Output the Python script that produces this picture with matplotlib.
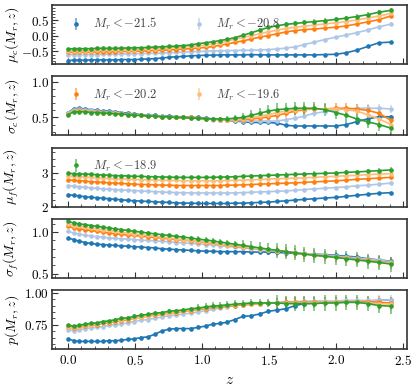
import numpy as np
import matplotlib
matplotlib.use("Agg")
import matplotlib.pyplot as plt
from matplotlib.ticker import MultipleLocator, AutoMinorLocator

plt.rcParams.update({
    "font.family": "serif",
    "font.serif": ["cmr10"],
    "mathtext.fontset": "cm",
    "axes.formatter.use_mathtext": True,
    "font.size": 10,
})

# redshift bins
z = [0.000, 0.042, 0.085, 0.128, 0.171, 0.216, 0.261, 0.306, 0.352, 0.399,
     0.447, 0.496, 0.545, 0.595, 0.646, 0.698, 0.751, 0.804, 0.859, 0.915,
     0.972, 1.030, 1.080, 1.136, 1.186, 1.243, 1.306, 1.369, 1.432, 1.495,
     1.563, 1.628, 1.696, 1.763, 1.839, 1.914, 2.000, 2.077, 2.153, 2.236,
     2.320, 2.410]

mag_cuts = ["-21.5", "-20.8", "-20.2", "-19.6", "-18.9"]
colors = ["#1f77b4", "#aec7e8", "#ff7f0e", "#ffbb78", "#2ca02c"]

# mu_c(M_r, z)
muc_215 = [-0.79, -0.78, -0.78, -0.78, -0.77, -0.77, -0.77, -0.77, -0.77, -0.76,
           -0.76, -0.76, -0.75, -0.74, -0.73, -0.71, -0.69, -0.67, -0.66, -0.64,
           -0.63, -0.62, -0.62, -0.61, -0.61, -0.61, -0.61, -0.60, -0.61, -0.61,
           -0.61, -0.61, -0.61, -0.61, -0.61, -0.60, -0.59, -0.54, -0.46, -0.34,
           -0.22, -0.20]
muc_208 = [-0.61, -0.60, -0.60, -0.60, -0.60, -0.60, -0.59, -0.59, -0.59, -0.58,
           -0.58, -0.57, -0.57, -0.56, -0.56, -0.55, -0.54, -0.53, -0.52, -0.51,
           -0.50, -0.49, -0.48, -0.48, -0.47, -0.47, -0.46, -0.46, -0.45, -0.44,
           -0.42, -0.39, -0.35, -0.28, -0.20, -0.12, -0.04, 0.03, 0.10, 0.19,
           0.29, 0.38]
muc_202 = [-0.53, -0.52, -0.52, -0.52, -0.52, -0.51, -0.51, -0.51, -0.51, -0.50,
           -0.50, -0.49, -0.49, -0.48, -0.47, -0.46, -0.45, -0.44, -0.42, -0.41,
           -0.39, -0.37, -0.34, -0.30, -0.26, -0.21, -0.16, -0.10, -0.04, 0.01,
           0.07, 0.13, 0.17, 0.20, 0.22, 0.25, 0.28, 0.32, 0.38, 0.45,
           0.52, 0.64]
muc_196 = [-0.48, -0.47, -0.47, -0.47, -0.47, -0.46, -0.46, -0.46, -0.45, -0.45,
           -0.44, -0.44, -0.43, -0.42, -0.41, -0.40, -0.39, -0.37, -0.36, -0.34,
           -0.32, -0.29, -0.26, -0.22, -0.17, -0.11, -0.05, 0.01, 0.07, 0.13,
           0.19, 0.24, 0.28, 0.31, 0.35, 0.38, 0.42, 0.46, 0.51, 0.57,
           0.64, 0.72]
muc_189 = [-0.42, -0.41, -0.41, -0.41, -0.41, -0.40, -0.40, -0.40, -0.40, -0.39,
           -0.39, -0.38, -0.38, -0.37, -0.36, -0.35, -0.34, -0.33, -0.31, -0.29,
           -0.25, -0.22, -0.19, -0.15, -0.11, -0.06, 0.02, 0.10, 0.19, 0.27,
           0.33, 0.37, 0.40, 0.43, 0.46, 0.49, 0.53, 0.57, 0.62, 0.68,
           0.76, 0.82]
muc_215_err = [.02, .02, .02, .02, .02, .02, .02, .02, .02, .02,
               .02, .02, .02, .02, .02, .02, .02, .02, .02, .02,
               .02, .02, .02, .02, .02, .02, .02, .02, .02, .02,
               .02, .02, .02, .02, .02, .02, .02, .03, .03, .03,
               .03, .03]
muc_208_err = [.02, .02, .02, .02, .02, .02, .02, .02, .02, .02,
               .02, .02, .02, .02, .02, .02, .02, .02, .02, .02,
               .02, .02, .02, .02, .02, .02, .03, .03, .03, .03,
               .03, .04, .04, .04, .04, .04, .04, .05, .05, .05,
               .05, .05]
muc_202_err = [.02, .02, .02, .02, .02, .02, .02, .02, .02, .02,
               .02, .02, .02, .02, .02, .02, .02, .02, .02, .02,
               .02, .03, .03, .03, .03, .03, .04, .04, .05, .05,
               .05, .06, .06, .06, .06, .06, .06, .07, .07, .07,
               .07, .07]
muc_196_err = [.02, .02, .02, .02, .02, .02, .02, .02, .02, .02,
               .02, .02, .02, .02, .02, .02, .02, .02, .02, .02,
               .02, .03, .03, .03, .03, .03, .04, .04, .05, .05,
               .05, .06, .06, .06, .06, .06, .06, .07, .07, .07,
               .07, .07]
muc_189_err = [.02, .02, .02, .02, .02, .02, .02, .02, .02, .02,
               .02, .02, .02, .02, .02, .02, .02, .02, .02, .02,
               .02, .03, .03, .03, .03, .03, .04, .05, .05, .06,
               .06, .07, .07, .07, .07, .07, .07, .08, .08, .08,
               .08, .08]

# sigma_c(M_r, z)
sigc_215 = [0.57, 0.62, 0.63, 0.62, 0.61, 0.60, 0.59, 0.59, 0.58, 0.57,
            0.56, 0.55, 0.54, 0.53, 0.53, 0.52, 0.52, 0.51, 0.51, 0.50,
            0.50, 0.49, 0.48, 0.47, 0.46, 0.45, 0.44, 0.43, 0.43, 0.43,
            0.42, 0.39, 0.38, 0.38, 0.38, 0.38, 0.38, 0.40, 0.44, 0.48,
            0.51, 0.51]
sigc_208 = [0.56, 0.61, 0.62, 0.61, 0.60, 0.59, 0.58, 0.58, 0.57, 0.56,
            0.55, 0.54, 0.53, 0.53, 0.52, 0.52, 0.51, 0.51, 0.50, 0.50,
            0.49, 0.48, 0.47, 0.47, 0.46, 0.46, 0.45, 0.45, 0.45, 0.45,
            0.45, 0.47, 0.49, 0.52, 0.56, 0.58, 0.61, 0.62, 0.63, 0.63,
            0.63, 0.62]
sigc_202 = [0.55, 0.59, 0.60, 0.59, 0.58, 0.58, 0.57, 0.57, 0.56, 0.55,
            0.54, 0.54, 0.53, 0.52, 0.52, 0.51, 0.51, 0.50, 0.50, 0.50,
            0.49, 0.48, 0.48, 0.47, 0.47, 0.47, 0.47, 0.48, 0.49, 0.51,
            0.53, 0.56, 0.59, 0.61, 0.62, 0.62, 0.63, 0.63, 0.62, 0.60,
            0.56, 0.46]
sigc_196 = [0.55, 0.59, 0.59, 0.59, 0.58, 0.57, 0.57, 0.56, 0.56, 0.55,
            0.54, 0.54, 0.53, 0.52, 0.52, 0.51, 0.51, 0.50, 0.50, 0.49,
            0.49, 0.48, 0.48, 0.47, 0.47, 0.47, 0.48, 0.50, 0.52, 0.54,
            0.57, 0.59, 0.61, 0.62, 0.62, 0.62, 0.62, 0.61, 0.59, 0.54,
            0.48, 0.40]
sigc_189 = [0.54, 0.58, 0.58, 0.58, 0.57, 0.57, 0.56, 0.56, 0.55, 0.55,
            0.54, 0.53, 0.53, 0.52, 0.52, 0.51, 0.51, 0.50, 0.50, 0.49,
            0.49, 0.48, 0.48, 0.48, 0.48, 0.49, 0.50, 0.53, 0.56, 0.59,
            0.61, 0.62, 0.63, 0.63, 0.63, 0.61, 0.57, 0.53, 0.48, 0.44,
            0.40, 0.35]
sigc_215_err = [.015, .015, .015, .015, .015, .015, .015, .015, .015, .015,
                .015, .015, .015, .015, .015, .015, .015, .015, .015, .015,
                .02, .02, .02, .02, .02, .02, .02, .02, .02, .02,
                .02, .02, .02, .02, .02, .02, .03, .03, .03, .03,
                .03, .03]
sigc_208_err = [.015, .015, .015, .015, .015, .015, .015, .015, .015, .015,
                .015, .015, .015, .015, .015, .015, .015, .015, .015, .015,
                .02, .02, .02, .02, .02, .03, .03, .03, .03, .03,
                .04, .04, .04, .04, .05, .05, .05, .06, .06, .06,
                .06, .06]
sigc_202_err = [.015, .015, .015, .015, .015, .015, .015, .015, .015, .015,
                .015, .015, .015, .015, .015, .015, .015, .015, .015, .015,
                .02, .02, .02, .03, .03, .03, .03, .04, .04, .05,
                .05, .06, .06, .06, .07, .07, .07, .07, .07, .07,
                .07, .07]
sigc_196_err = [.015, .015, .015, .015, .015, .015, .015, .015, .015, .015,
                .015, .015, .015, .015, .015, .015, .015, .015, .015, .015,
                .02, .02, .02, .03, .03, .03, .03, .04, .04, .05,
                .05, .06, .06, .07, .07, .07, .08, .08, .08, .08,
                .08, .08]
sigc_189_err = [.015, .015, .015, .015, .015, .015, .015, .015, .015, .015,
                .015, .015, .015, .015, .015, .015, .015, .015, .015, .015,
                .02, .02, .03, .03, .04, .05, .06, .07, .08, .08,
                .09, .09, .09, .09, .09, .09, .09, .09, .09, .09,
                .09, .09]

# mu_f(M_r, z)
muf_215 = [2.35, 2.33, 2.31, 2.29, 2.27, 2.26, 2.24, 2.23, 2.21, 2.20,
           2.18, 2.17, 2.16, 2.15, 2.14, 2.13, 2.12, 2.11, 2.10, 2.10,
           2.09, 2.09, 2.09, 2.09, 2.09, 2.10, 2.10, 2.11, 2.12, 2.13,
           2.15, 2.17, 2.19, 2.21, 2.23, 2.25, 2.27, 2.30, 2.33, 2.36,
           2.39, 2.41]
muf_208 = [2.62, 2.60, 2.58, 2.57, 2.55, 2.54, 2.52, 2.51, 2.50, 2.49,
           2.48, 2.47, 2.46, 2.45, 2.44, 2.43, 2.42, 2.41, 2.41, 2.40,
           2.40, 2.40, 2.40, 2.40, 2.40, 2.40, 2.41, 2.42, 2.43, 2.44,
           2.45, 2.46, 2.48, 2.50, 2.52, 2.54, 2.56, 2.58, 2.61, 2.63,
           2.66, 2.69]
muf_202 = [2.79, 2.77, 2.76, 2.75, 2.73, 2.72, 2.71, 2.70, 2.69, 2.68,
           2.67, 2.66, 2.65, 2.65, 2.64, 2.63, 2.63, 2.62, 2.62, 2.62,
           2.62, 2.62, 2.62, 2.62, 2.63, 2.63, 2.64, 2.65, 2.66, 2.67,
           2.68, 2.69, 2.70, 2.71, 2.73, 2.74, 2.76, 2.78, 2.80, 2.82,
           2.84, 2.86]
muf_196 = [2.90, 2.89, 2.88, 2.87, 2.86, 2.85, 2.84, 2.83, 2.82, 2.81,
           2.81, 2.80, 2.79, 2.79, 2.78, 2.78, 2.77, 2.77, 2.76, 2.76,
           2.76, 2.76, 2.76, 2.76, 2.77, 2.77, 2.78, 2.79, 2.80, 2.81,
           2.82, 2.83, 2.84, 2.85, 2.86, 2.88, 2.89, 2.91, 2.92, 2.94,
           2.96, 2.97]
muf_189 = [2.98, 2.97, 2.96, 2.96, 2.95, 2.94, 2.93, 2.92, 2.91, 2.91,
           2.90, 2.89, 2.89, 2.88, 2.88, 2.87, 2.87, 2.86, 2.86, 2.86,
           2.86, 2.86, 2.86, 2.87, 2.87, 2.88, 2.89, 2.90, 2.91, 2.92,
           2.93, 2.94, 2.95, 2.96, 2.97, 2.98, 2.99, 3.01, 3.02, 3.04,
           3.06, 3.08]
muf_215_err = [.02, .02, .02, .02, .02, .02, .02, .02, .02, .02,
               .02, .02, .02, .02, .02, .02, .02, .02, .02, .02,
               .02, .02, .02, .02, .02, .02, .02, .02, .02, .02,
               .03, .03, .03, .03, .03, .03, .03, .03, .03, .03,
               .03, .03]
muf_208_err = [.02, .02, .02, .02, .02, .02, .02, .02, .02, .02,
               .02, .02, .02, .02, .02, .02, .02, .02, .02, .02,
               .03, .03, .03, .03, .03, .03, .03, .03, .03, .03,
               .04, .04, .04, .04, .04, .04, .04, .04, .04, .04,
               .05, .05]
muf_202_err = [.02, .02, .02, .02, .02, .02, .02, .02, .02, .02,
               .03, .03, .03, .03, .03, .03, .03, .03, .03, .03,
               .04, .04, .04, .04, .04, .04, .04, .04, .04, .04,
               .06, .06, .06, .06, .06, .06, .06, .06, .06, .06,
               .07, .07]
muf_196_err = [.02, .02, .02, .02, .02, .02, .02, .02, .02, .02,
               .03, .03, .03, .03, .03, .03, .03, .03, .03, .03,
               .04, .04, .04, .04, .04, .04, .04, .04, .04, .04,
               .06, .06, .06, .06, .06, .06, .06, .06, .06, .06,
               .07, .07]
muf_189_err = [.03, .03, .03, .03, .03, .03, .03, .03, .03, .03,
               .04, .04, .04, .04, .04, .04, .04, .04, .04, .04,
               .05, .05, .05, .05, .05, .05, .05, .05, .05, .05,
               .07, .07, .07, .07, .07, .07, .07, .07, .07, .07,
               .08, .08]

# sigma_f(M_r, z)
sigf_215 = [0.93, 0.91, 0.89, 0.875, 0.865, 0.855, 0.85, 0.845, 0.84, 0.835,
            0.83, 0.825, 0.82, 0.815, 0.81, 0.80, 0.795, 0.79, 0.785, 0.78,
            0.775, 0.77, 0.77, 0.765, 0.765, 0.765, 0.765, 0.76, 0.76, 0.76,
            0.755, 0.75, 0.745, 0.74, 0.735, 0.73, 0.72, 0.71, 0.70, 0.68,
            0.665, 0.65]
sigf_208 = [1.01, 0.99, 0.975, 0.965, 0.955, 0.945, 0.94, 0.93, 0.925, 0.92,
            0.915, 0.91, 0.905, 0.90, 0.895, 0.89, 0.885, 0.875, 0.87, 0.865,
            0.86, 0.85, 0.845, 0.835, 0.83, 0.82, 0.81, 0.80, 0.79, 0.785,
            0.775, 0.765, 0.755, 0.745, 0.735, 0.725, 0.71, 0.70, 0.69, 0.675,
            0.66, 0.645]
sigf_202 = [1.07, 1.05, 1.04, 1.03, 1.02, 1.01, 1.00, 0.99, 0.98, 0.975,
            0.965, 0.96, 0.95, 0.945, 0.935, 0.93, 0.92, 0.91, 0.905, 0.895,
            0.885, 0.875, 0.865, 0.855, 0.845, 0.835, 0.82, 0.81, 0.80, 0.79,
            0.775, 0.765, 0.75, 0.74, 0.725, 0.715, 0.70, 0.69, 0.675, 0.66,
            0.645, 0.63]
sigf_196 = [1.10, 1.08, 1.07, 1.06, 1.05, 1.04, 1.03, 1.02, 1.01, 1.00,
            0.99, 0.98, 0.97, 0.96, 0.95, 0.94, 0.93, 0.92, 0.91, 0.90,
            0.89, 0.88, 0.87, 0.86, 0.85, 0.84, 0.825, 0.815, 0.80, 0.79,
            0.775, 0.765, 0.75, 0.74, 0.725, 0.71, 0.70, 0.685, 0.67, 0.655,
            0.64, 0.625]
sigf_189 = [1.13, 1.11, 1.10, 1.09, 1.08, 1.07, 1.06, 1.05, 1.04, 1.03,
            1.02, 1.01, 1.00, 0.99, 0.98, 0.97, 0.96, 0.95, 0.94, 0.93,
            0.915, 0.905, 0.895, 0.88, 0.87, 0.855, 0.84, 0.825, 0.81, 0.795,
            0.78, 0.765, 0.75, 0.735, 0.72, 0.71, 0.695, 0.68, 0.665, 0.65,
            0.635, 0.615]
sigf_215_err = [.015, .015, .015, .015, .015, .015, .015, .015, .015, .015,
                .015, .015, .015, .015, .015, .015, .015, .015, .015, .015,
                .02, .02, .02, .02, .02, .02, .02, .02, .02, .02,
                .03, .03, .03, .03, .03, .03, .03, .03, .03, .03,
                .03, .03]
sigf_208_err = [.015, .015, .015, .015, .015, .015, .015, .015, .015, .015,
                .015, .015, .015, .015, .015, .015, .015, .015, .015, .015,
                .02, .02, .02, .02, .02, .02, .02, .02, .02, .02,
                .04, .04, .04, .04, .04, .04, .04, .04, .04, .04,
                .05, .05]
sigf_202_err = [.015, .015, .015, .015, .015, .015, .015, .015, .015, .015,
                .02, .02, .02, .02, .02, .02, .02, .02, .02, .02,
                .03, .03, .03, .03, .03, .03, .03, .03, .03, .03,
                .06, .06, .06, .06, .06, .06, .06, .06, .06, .06,
                .07, .07]
sigf_196_err = [.015, .015, .015, .015, .015, .015, .015, .015, .015, .015,
                .02, .02, .02, .02, .02, .02, .02, .02, .02, .02,
                .03, .03, .03, .03, .03, .03, .03, .03, .03, .03,
                .06, .06, .06, .06, .06, .06, .06, .06, .06, .06,
                .07, .07]
sigf_189_err = [.02, .02, .02, .02, .02, .02, .02, .02, .02, .02,
                .02, .02, .02, .02, .02, .02, .02, .02, .02, .02,
                .04, .04, .04, .04, .04, .04, .07, .07, .07, .07,
                .09, .09, .09, .09, .09, .09, .09, .09, .09, .09,
                .09, .09]

# p(M_r, z)
p_215 = [0.64, 0.625, 0.62, 0.62, 0.62, 0.62, 0.62, 0.625, 0.625, 0.63,
         0.635, 0.64, 0.65, 0.655, 0.675, 0.70, 0.715, 0.72, 0.72, 0.72,
         0.73, 0.74, 0.755, 0.76, 0.77, 0.79, 0.815, 0.82, 0.835, 0.855,
         0.865, 0.875, 0.90, 0.915, 0.92, 0.925, 0.93, 0.93, 0.935, 0.935,
         0.94, 0.945]
p_208 = [0.71, 0.705, 0.71, 0.72, 0.725, 0.73, 0.735, 0.745, 0.75, 0.755,
         0.765, 0.775, 0.785, 0.79, 0.80, 0.81, 0.82, 0.825, 0.835, 0.84,
         0.85, 0.86, 0.87, 0.88, 0.89, 0.90, 0.905, 0.91, 0.915, 0.92,
         0.925, 0.93, 0.93, 0.935, 0.935, 0.935, 0.935, 0.94, 0.94, 0.94,
         0.94, 0.945]
p_202 = [0.73, 0.725, 0.73, 0.74, 0.745, 0.75, 0.76, 0.765, 0.775, 0.78,
         0.79, 0.80, 0.81, 0.815, 0.825, 0.83, 0.84, 0.845, 0.855, 0.86,
         0.87, 0.875, 0.885, 0.89, 0.895, 0.90, 0.905, 0.91, 0.915, 0.92,
         0.92, 0.925, 0.925, 0.925, 0.925, 0.925, 0.925, 0.93, 0.93, 0.93,
         0.925, 0.92]
p_196 = [0.735, 0.73, 0.735, 0.745, 0.75, 0.755, 0.765, 0.77, 0.78, 0.785,
         0.795, 0.805, 0.81, 0.82, 0.83, 0.835, 0.845, 0.85, 0.86, 0.865,
         0.875, 0.88, 0.89, 0.895, 0.90, 0.905, 0.91, 0.915, 0.915, 0.92,
         0.92, 0.92, 0.92, 0.92, 0.92, 0.925, 0.925, 0.925, 0.925, 0.92,
         0.915, 0.91]
p_189 = [0.745, 0.74, 0.745, 0.755, 0.76, 0.765, 0.775, 0.78, 0.79, 0.80,
         0.805, 0.815, 0.825, 0.83, 0.84, 0.845, 0.855, 0.86, 0.865, 0.875,
         0.88, 0.89, 0.895, 0.90, 0.905, 0.91, 0.915, 0.92, 0.92, 0.92,
         0.92, 0.915, 0.915, 0.915, 0.915, 0.92, 0.92, 0.925, 0.925, 0.915,
         0.90, 0.895]
p_215_err = [.01, .01, .01, .01, .01, .01, .01, .01, .01, .01,
             .01, .01, .01, .01, .01, .01, .01, .01, .01, .01,
             .015, .015, .015, .015, .015, .015, .015, .015, .015, .015,
             .02, .02, .02, .02, .02, .02, .02, .02, .02, .02,
             .02, .02]
p_208_err = [.01, .01, .01, .01, .01, .01, .01, .01, .01, .01,
             .01, .01, .01, .01, .01, .01, .01, .01, .01, .01,
             .015, .015, .015, .015, .015, .015, .015, .015, .015, .015,
             .03, .03, .03, .03, .03, .03, .03, .03, .03, .03,
             .04, .04]
p_202_err = [.01, .01, .01, .01, .01, .01, .01, .01, .01, .01,
             .015, .015, .015, .015, .015, .015, .015, .015, .015, .015,
             .02, .02, .02, .02, .02, .02, .02, .02, .02, .02,
             .04, .04, .04, .04, .04, .04, .04, .04, .04, .04,
             .05, .05]
p_196_err = [.01, .01, .01, .01, .01, .01, .01, .01, .01, .01,
             .015, .015, .015, .015, .015, .015, .015, .015, .015, .015,
             .02, .02, .02, .02, .02, .02, .02, .02, .02, .02,
             .04, .04, .04, .04, .04, .04, .04, .04, .04, .04,
             .05, .05]
p_189_err = [.01, .01, .01, .01, .01, .01, .01, .01, .01, .01,
             .015, .015, .015, .015, .015, .015, .015, .015, .015, .015,
             .03, .03, .03, .03, .03, .03, .03, .03, .03, .03,
             .06, .06, .06, .06, .06, .06, .06, .06, .06, .06,
             .06, .06]

panels = [
    (r"$\mu_c(M_r, z)$", [muc_215, muc_208, muc_202, muc_196, muc_189],
     [muc_215_err, muc_208_err, muc_202_err, muc_196_err, muc_189_err],
     (-0.9, 0.99), 0.5),
    (r"$\sigma_c(M_r, z)$", [sigc_215, sigc_208, sigc_202, sigc_196, sigc_189],
     [sigc_215_err, sigc_208_err, sigc_202_err, sigc_196_err, sigc_189_err],
     (0.25, 1.08), 0.5),
    (r"$\mu_f(M_r, z)$", [muf_215, muf_208, muf_202, muf_196, muf_189],
     [muf_215_err, muf_208_err, muf_202_err, muf_196_err, muf_189_err],
     (2.0, 3.74), 1.0),
    (r"$\sigma_f(M_r, z)$", [sigf_215, sigf_208, sigf_202, sigf_196, sigf_189],
     [sigf_215_err, sigf_208_err, sigf_202_err, sigf_196_err, sigf_189_err],
     (0.45, 1.16), 0.5),
    (r"$p(M_r, z)$", [p_215, p_208, p_202, p_196, p_189],
     [p_215_err, p_208_err, p_202_err, p_196_err, p_189_err],
     (0.56, 1.02), 0.25),
]
# which series go in which panel's legend
legend_groups = [[0, 1], [2, 3], [4], [], []]

fig, axes = plt.subplots(5, 1, sharex=True, figsize=(4.15, 3.87), dpi=100)
fig.subplots_adjust(left=0.125, right=0.981, top=0.987, bottom=0.098, hspace=0.21)

for i, (ax, (ylab, series, errs, ylim, major)) in enumerate(zip(axes, panels)):
    for y, e, c in zip(series, errs, colors):
        h = ax.errorbar(z, y, yerr=e, color=c, marker="o", ms=2.3, lw=1.2,
                        elinewidth=1.4, capsize=0)
        h[2][0].set_alpha(0.55)
    ax.set_ylim(*ylim)
    ax.set_ylabel(ylab, fontsize=10)
    ax.yaxis.set_label_coords(-0.086, 0.5)
    ax.yaxis.set_major_locator(MultipleLocator(major))
    ax.yaxis.set_minor_locator(AutoMinorLocator())
    ax.xaxis.set_major_locator(MultipleLocator(0.5))
    ax.xaxis.set_minor_locator(MultipleLocator(0.1))
    ax.tick_params(which="both", direction="in", color="#333333", labelsize=9.5)
    ax.tick_params(axis="y", pad=2)
    ax.tick_params(which="major", length=4, width=0.8)
    ax.tick_params(which="minor", length=2, width=0.6)
    for s in ax.spines.values():
        s.set_color("#333333")
        s.set_linewidth(1.2)

    grp = legend_groups[i]
    if grp:
        # marker-only proxies: legend shows dot with a vertical error bar
        handles = []
        for k in grp:
            ph = ax.errorbar([np.nan], [np.nan], yerr=[0.1], fmt="o",
                             color=colors[k], ms=2.3, elinewidth=1.4, capsize=0,
                             label=r"$M_r < %s$" % mag_cuts[k])
            ph[2][0].set_alpha(0.55)
            handles.append(ph)
        ax.legend(handles, [h.get_label() for h in handles],
                  loc="upper left", ncol=2, frameon=False, fontsize=9,
                  handlelength=2.0, handletextpad=0.4, columnspacing=2.3,
                  labelcolor="#444444")

axes[-1].set_xlabel(r"$z$", fontsize=11)

fig.savefig("out.png", dpi=100)
